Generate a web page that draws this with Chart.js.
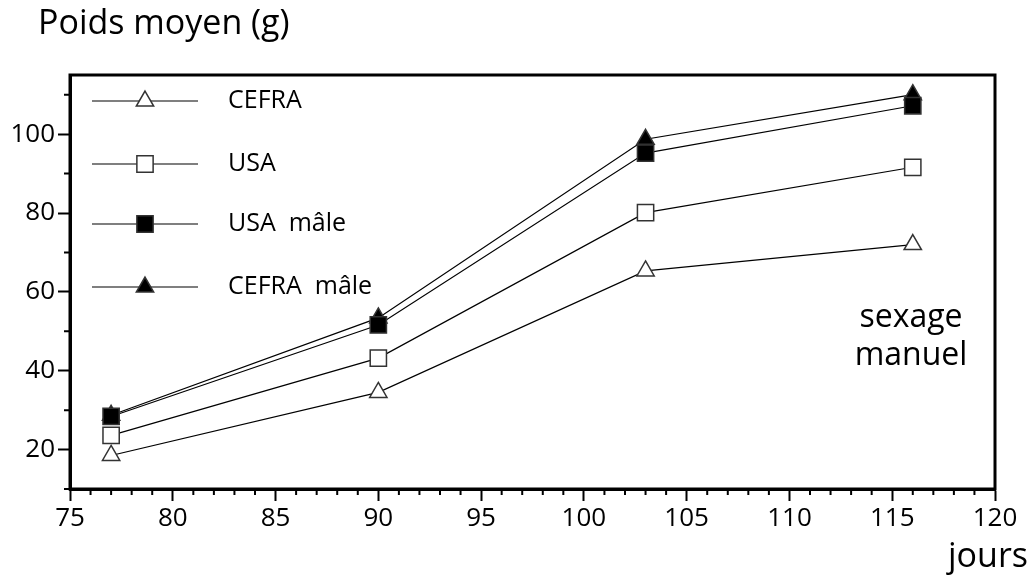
<!DOCTYPE html>
<html>
<head>
<meta charset="utf-8">
<style>
  html, body { margin: 0; padding: 0; background: #fff; }
  #wrap { width: 1033px; height: 577px; }
</style>
<script src="https://cdn.jsdelivr.net/npm/chart.js@4/dist/chart.umd.min.js"></script>
</head>
<body>
<div id="wrap"><canvas id="chart" width="1033" height="577"></canvas></div>
<script>
const days = [77, 90, 103, 116];
const cefra = [18.5, 34.5, 65.3, 72.0];
const usa = [23.6, 43.2, 80.1, 91.6];
const usaMale = [28.4, 51.6, 95.2, 107.2];
const cefraMale = [28.7, 53.4, 98.7, 110.0];
const xTicks = [75, 80, 85, 90, 95, 100, 105, 110, 115, 120];
const yTicks = [20, 40, 60, 80, 100];

const FONT = 'Open Sans';

const toPoints = (vals) => vals.map((v, i) => ({ x: days[i], y: v }));

const series = (label, vals, style, fill) => ({
    label,
    data: toPoints(vals),
    borderColor: '#000',
    borderWidth: 1.2,
    pointStyle: style,
    pointRadius: style === 'rect' ? 11.5 : 10,
    pointBackgroundColor: fill,
    pointBorderColor: '#333',
    pointBorderWidth: 1.5,
    tension: 0,
});

// minor ticks, frame, legend and free texts
const decor = {
    id: 'decor',
    afterDraw(chart) {
        const { ctx, chartArea: a, scales: { x, y } } = chart;
        ctx.save();
        ctx.strokeStyle = '#000';
        ctx.lineWidth = 2;
        ctx.beginPath();
        for (let v = 75; v <= 120; v++) {
            if (v % 5 === 0) continue;
            const px = x.getPixelForValue(v);
            ctx.moveTo(px, a.bottom);
            ctx.lineTo(px, a.bottom + 6);
        }
        for (let v = 10; v <= 110; v += 20) {
            const py = y.getPixelForValue(v);
            ctx.moveTo(a.left, py);
            ctx.lineTo(a.left - 6, py);
        }
        ctx.stroke();

        ctx.lineWidth = 3;
        ctx.strokeRect(a.left, a.top, a.right - a.left, a.bottom - a.top);

        // legend
        const rows = [101, 164, 224, 287];
        chart.data.datasets.forEach((ds, i) => {
            const ly = rows[i];
            ctx.lineWidth = 1.2;
            ctx.strokeStyle = '#000';
            ctx.beginPath();
            ctx.moveTo(92, ly);
            ctx.lineTo(198, ly);
            ctx.stroke();
            ctx.fillStyle = ds.pointBackgroundColor;
            ctx.strokeStyle = ds.pointBorderColor;
            ctx.lineWidth = 1.5;
            Chart.helpers.drawPoint(ctx, {
                pointStyle: ds.pointStyle,
                radius: ds.pointRadius,
                borderWidth: 1.5,
                rotation: 0,
            }, 145, ly);
            ctx.fillStyle = '#000';
            ctx.font = `25px "${FONT}"`;
            ctx.textBaseline = 'middle';
            ctx.textAlign = 'left';
            ctx.fillText(ds.label, 228, ly);
        });

        ctx.fillStyle = '#000';
        ctx.textBaseline = 'alphabetic';
        ctx.font = `34px "${FONT}"`;
        ctx.textAlign = 'left';
        ctx.fillText('Poids moyen (g)', 38, 34);
        ctx.textAlign = 'right';
        ctx.fillText('jours', 1028, 567);
        ctx.font = `32px "${FONT}"`;
        ctx.textAlign = 'center';
        ctx.fillText('sexage', 911, 327);
        ctx.fillText('manuel', 911, 365);
        ctx.restore();
    },
};

new Chart(document.getElementById('chart'), {
    type: 'line',
    data: {
        datasets: [
            series('CEFRA', cefra, 'triangle', '#fff'),
            series('USA', usa, 'rect', '#fff'),
            series('USA  mâle', usaMale, 'rect', '#000'),
            series('CEFRA  mâle', cefraMale, 'triangle', '#000'),
        ],
    },
    options: {
        responsive: false,
        animation: false,
        layout: { padding: { top: 75, right: 38, left: 0, bottom: 0 } },
        plugins: {
            legend: { display: false },
            tooltip: { enabled: false },
        },
        scales: {
            x: {
                type: 'linear',
                min: 75,
                max: 120,
                afterBuildTicks: (s) => { s.ticks = xTicks.map((v) => ({ value: v })); },
                afterFit: (s) => { s.height = 88; },
                ticks: { font: { family: FONT, size: 26 }, color: '#000', padding: 2, maxRotation: 0 },
                grid: { drawOnChartArea: false, tickLength: 12, tickWidth: 2, tickColor: '#000' },
                border: { color: '#000', width: 3 },
            },
            y: {
                min: 10,
                max: 115,
                afterBuildTicks: (s) => { s.ticks = yTicks.map((v) => ({ value: v })); },
                afterFit: (s) => { s.width = 70; },
                ticks: { font: { family: FONT, size: 26 }, color: '#000', padding: 3 },
                grid: { drawOnChartArea: false, tickLength: 12, tickWidth: 2, tickColor: '#000' },
                border: { color: '#000', width: 3 },
            },
        },
    },
    plugins: [decor],
});
</script>
</body>
</html>
